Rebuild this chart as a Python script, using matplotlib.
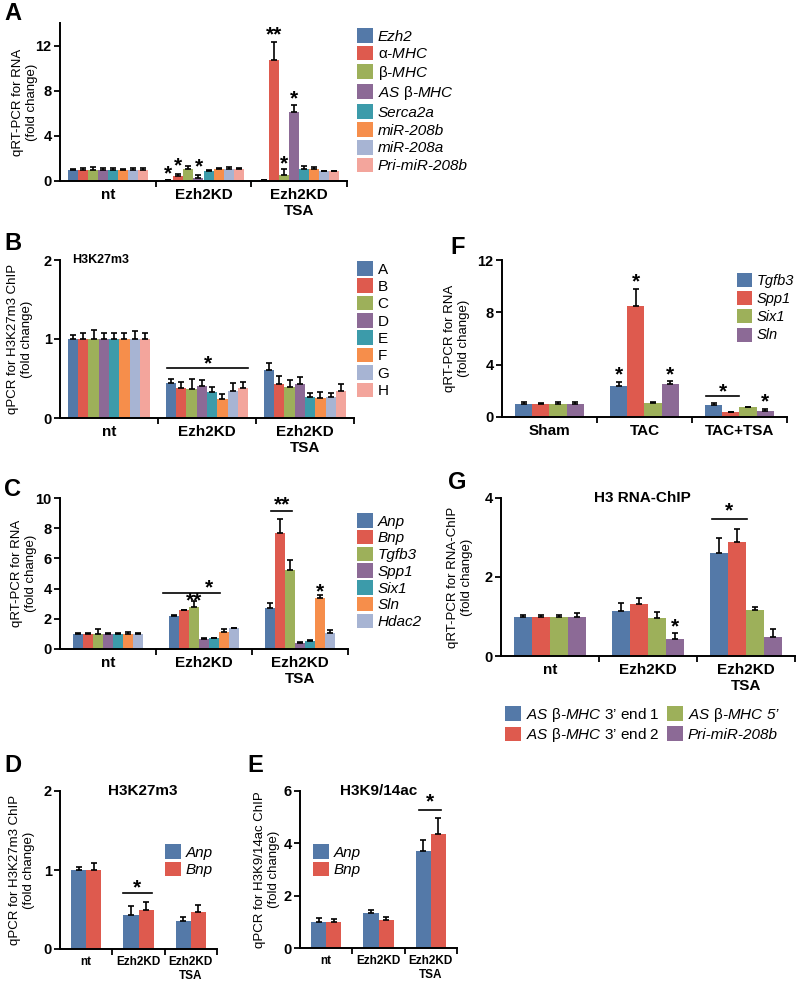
import numpy as np
import matplotlib
matplotlib.use('Agg')
import matplotlib.pyplot as plt
from matplotlib.patches import Patch

plt.rcParams['font.family'] = ['Liberation Sans', 'DejaVu Sans']
plt.rcParams['mathtext.fontset'] = 'custom'
plt.rcParams['mathtext.rm'] = 'Liberation Sans'
plt.rcParams['mathtext.it'] = 'Liberation Sans:italic'

W, H = 800, 983

# colours
BLUE, RED, GREEN, PURPLE = '#5479A8', '#DE5A4E', '#9DB05A', '#8C6A96'
TEAL, ORANGE, LBLUE, PINK = '#3C9BAA', '#F68E4B', '#A7B4D3', '#F3A59C'

## data: one row per series, one value per group
kd_groups = ['nt', 'Ezh2KD', 'Ezh2KD\nTSA']
tac_groups = ['Sham', 'TAC', 'TAC+TSA']

a_labels = ['Ezh2', r'$\mathrm{\alpha}$-MHC', r'$\mathrm{\beta}$-MHC', r'AS $\mathrm{\beta}$-MHC',
            'Serca2a', 'miR-208b', 'miR-208a', 'Pri-miR-208b']
a_vals = [[1.0, 0.06, 0.08], [1.0, 0.45, 10.7], [1.0, 1.1, 0.55], [1.0, 0.3, 6.1],
          [1.0, 0.85, 1.05], [1.0, 1.05, 1.1], [1.0, 1.1, 0.85], [1.0, 1.05, 0.85]]
a_errs = [[0.05, 0.02, 0.03], [0.15, 0.15, 1.65], [0.2, 0.2, 0.5], [0.15, 0.2, 0.6],
          [0.15, 0.1, 0.3], [0.08, 0.08, 0.1], [0.15, 0.1, 0.05], [0.15, 0.12, 0.05]]

b_labels = ['A', 'B', 'C', 'D', 'E', 'F', 'G', 'H']
b_vals = [[1.0, 0.44, 0.61], [1.0, 0.38, 0.43], [1.0, 0.37, 0.39], [1.0, 0.41, 0.43],
          [1.0, 0.33, 0.27], [1.0, 0.24, 0.25], [1.0, 0.34, 0.27], [1.0, 0.38, 0.34]]
b_errs = [[0.05, 0.05, 0.08], [0.07, 0.07, 0.1], [0.12, 0.12, 0.09], [0.07, 0.07, 0.09],
          [0.07, 0.06, 0.05], [0.07, 0.07, 0.08], [0.1, 0.1, 0.05], [0.07, 0.07, 0.09]]

c_labels = ['Anp', 'Bnp', 'Tgfb3', 'Spp1', 'Six1', 'Sln', 'Hdac2']
c_vals = [[1.0, 2.2, 2.7], [1.0, 2.55, 7.7], [1.0, 2.8, 5.2], [1.0, 0.65, 0.42],
          [1.0, 0.7, 0.5], [1.0, 1.15, 3.35], [1.0, 1.37, 1.05]]
c_errs = [[0.03, 0.05, 0.35], [0.03, 0.05, 0.9], [0.35, 0.35, 0.7], [0.05, 0.05, 0.06],
          [0.05, 0.05, 0.1], [0.15, 0.15, 0.25], [0.03, 0.04, 0.2]]

d_labels = ['Anp', 'Bnp']
d_vals = [[1.0, 0.43, 0.36], [1.0, 0.5, 0.47]]
d_errs = [[0.04, 0.12, 0.04], [0.09, 0.1, 0.09]]

e_vals = [[1.0, 1.32, 3.72], [1.0, 1.08, 4.37]]
e_errs = [[0.15, 0.15, 0.42], [0.1, 0.1, 0.6]]

f_labels = ['Tgfb3', 'Spp1', 'Six1', 'Sln']
f_vals = [[1.0, 2.4, 0.95], [1.0, 8.5, 0.35], [1.0, 1.05, 0.75], [1.0, 2.55, 0.45]]
f_errs = [[0.12, 0.3, 0.1], [0.05, 1.25, 0.05], [0.12, 0.12, 0.05], [0.18, 0.2, 0.15]]

g_labels = [r"AS $\mathrm{\beta}$-MHC $\mathrm{3’\ end\ 1}$",
            r"AS $\mathrm{\beta}$-MHC $\mathrm{3’\ end\ 2}$",
            r"AS $\mathrm{\beta}$-MHC 5’", 'Pri-miR-208b']
g_vals = [[1.0, 1.13, 2.62], [1.0, 1.32, 2.88], [1.0, 0.95, 1.17], [1.0, 0.42, 0.48]]
g_errs = [[0.05, 0.2, 0.38], [0.04, 0.15, 0.33], [0.05, 0.17, 0.08], [0.08, 0.17, 0.2]]

colors8 = [BLUE, RED, GREEN, PURPLE, TEAL, ORANGE, LBLUE, PINK]
colors7 = [BLUE, RED, GREEN, PURPLE, TEAL, ORANGE, LBLUE]
colors4 = [BLUE, RED, GREEN, PURPLE]
colors2 = [BLUE, RED]


def px_axes(fig, x0, y0, x1, y1):
    return fig.add_axes([x0 / W, 1 - y1 / H, (x1 - x0) / W, (y1 - y0) / H])


def bar_panel(ax, groups, vals, errs, colors, width, ylim, yticks,
              cat_fs=11, tick_fs=10.5):
    n = len(vals)
    x = np.arange(len(groups))
    pos_all = []
    for i in range(n):
        pos = x + (i - (n - 1) / 2) * width
        pos_all.append(pos)
        ax.bar(pos, vals[i], width, color=colors[i], zorder=2)
        ax.errorbar(pos, vals[i], yerr=[np.zeros(len(x)), errs[i]], fmt='none',
                    ecolor='k', elinewidth=1.2, capsize=2.3, capthick=1.2, zorder=3)
    ax.set_xlim(-0.5, len(groups) - 0.5)
    ax.set_ylim(*ylim)
    ax.set_yticks(yticks)
    ax.set_yticklabels([str(t) for t in yticks], fontweight='bold', fontsize=tick_fs)
    ax.set_xticks(list(x[:-1] + 0.5) + [len(groups) - 0.5])
    ax.set_xticklabels([])
    ax.set_xticks(x, groups, minor=True)
    for t in ax.get_xticklabels(minor=True):
        t.set_fontweight('bold')
        t.set_fontsize(cat_fs)
    ax.tick_params(axis='x', which='minor', length=0, pad=5)
    ax.tick_params(axis='x', which='major', length=4, width=1.3, direction='out')
    ax.tick_params(axis='y', length=4, width=1.3, direction='out', pad=2)
    for s in ['top', 'right']:
        ax.spines[s].set_visible(False)
    for s in ['left', 'bottom']:
        ax.spines[s].set_linewidth(1.4)
    return pos_all


def star(ax, x, y, s='*', fs=15):
    # the glyph sits high in its box, so nudge it down a little
    ax.annotate(s, (x, y), xytext=(0, -1.5), textcoords='offset points',
                ha='center', va='center', fontsize=fs, fontweight='bold')


def sig_line(ax, x1, x2, y):
    ax.plot([x1, x2], [y, y], color='k', lw=1.2, zorder=4)


def legend(ax, labels, colors, x, y, fs=11, italic=True, **kw):
    handles = [Patch(facecolor=c, edgecolor='none') for c in colors]
    prop = {'size': fs, 'style': 'italic' if italic else 'normal'}
    ax.legend(handles, labels, loc='upper left', bbox_to_anchor=(x / W, 1 - y / H),
              bbox_transform=ax.figure.transFigure, frameon=False, prop=prop,
              borderpad=0, borderaxespad=0, handlelength=1.05, handleheight=1.1,
              handletextpad=0.3, **kw)


def ylab(ax, text, offset_px, width_px):
    ax.set_ylabel(text, fontsize=9.5, linespacing=1.2)
    ax.yaxis.set_label_coords(-offset_px / width_px, 0.5)


def letter(fig, s, x, y):
    fig.text(x / W, 1 - y / H, s, fontsize=17, fontweight='bold', ha='left', va='center')


fig = plt.figure(figsize=(W / 100, H / 100), dpi=100)

# A
ax = px_axes(fig, 60, 23, 347, 181)
p = bar_panel(ax, kd_groups, a_vals, a_errs, colors8, 0.105, (0, 14), [0, 4, 8, 12])
ylab(ax, 'qRT-PCR for RNA\n(fold change)', 22, 287)
star(ax, p[0][1], 0.85); star(ax, p[1][1], 1.5); star(ax, p[3][1], 1.4)
star(ax, p[1][2], 13.15, '**'); star(ax, p[2][2], 1.7); star(ax, p[3][2], 7.5)
legend(ax, a_labels, colors8, 357, 28, labelspacing=0.15)
letter(fig, 'A', 4, 14)

# B
ax = px_axes(fig, 60, 260, 354, 418)
p = bar_panel(ax, kd_groups, b_vals, b_errs, colors8, 0.105, (0, 2), [0, 1, 2])
ylab(ax, 'qPCR for H3K27m3 ChIP\n(fold change)', 27, 294)
ax.text(0.04, 1.0, 'H3K27m3', transform=ax.transAxes, fontsize=9, fontweight='bold',
        ha='left', va='center')
sig_line(ax, 0.59, 1.42, 0.63)
star(ax, 1.01, 0.71)
legend(ax, b_labels, colors8, 357, 261, italic=False, labelspacing=0.12)
letter(fig, 'B', 4, 243)

# C
ax = px_axes(fig, 60, 498, 348, 649)
p = bar_panel(ax, kd_groups, c_vals, c_errs, colors7, 0.104, (0, 10), [0, 2, 4, 6, 8, 10])
ylab(ax, 'qRT-PCR for RNA\n(fold change)', 23, 288)
sig_line(ax, 0.57, 1.17, 3.7)
star(ax, 1.05, 4.2); star(ax, p[2][1], 3.3, '**')
sig_line(ax, 1.70, 1.92, 9.15)
star(ax, 1.81, 9.7, '**'); star(ax, p[5][2], 3.9)
legend(ax, c_labels, colors7, 357, 513, labelspacing=0.08)
letter(fig, 'C', 4, 490)

# D
ax = px_axes(fig, 60, 791, 217, 949)
p = bar_panel(ax, kd_groups, d_vals, d_errs, colors2, 0.29, (0, 2), [0, 1, 2],
              cat_fs=8.5, tick_fs=10.5)
ylab(ax, 'qPCR for H3K27m3 ChIP\n(fold change)', 25, 157)
ax.text(0.53, 1.0, 'H3K27m3', transform=ax.transAxes, fontsize=11, fontweight='bold',
        ha='center', va='center')
sig_line(ax, 0.70, 1.26, 0.71)
star(ax, 0.97, 0.8)
legend(ax, d_labels, colors2, 165, 844, labelspacing=0.15)
letter(fig, 'D', 4, 765)

# E
ax = px_axes(fig, 300, 791, 457, 948)
p = bar_panel(ax, kd_groups, e_vals, e_errs, colors2, 0.29, (0, 6), [0, 2, 4, 6],
              cat_fs=8.5, tick_fs=10.5)
ylab(ax, 'qPCR for H3K9/14ac ChIP\n(fold change)', 20, 157)
ax.text(0.5, 1.0, 'H3K9/14ac', transform=ax.transAxes, fontsize=11, fontweight='bold',
        ha='center', va='center')
sig_line(ax, 1.78, 2.2, 5.27)
star(ax, 1.99, 5.65)
legend(ax, d_labels, colors2, 313, 844, labelspacing=0.15)
letter(fig, 'E', 247, 765)

# F
ax = px_axes(fig, 502, 260, 787, 417)
p = bar_panel(ax, tac_groups, f_vals, f_errs, colors4, 0.18, (0, 12), [0, 4, 8, 12])
ylab(ax, 'qRT-PCR for RNA\n(fold change)', 32, 285)
star(ax, p[0][1], 3.35); star(ax, p[1][1], 10.5); star(ax, p[3][1], 3.4)
sig_line(ax, 1.65, 2.0, 1.63)
star(ax, 1.83, 2.05); star(ax, p[3][2], 1.3)
legend(ax, f_labels, colors4, 737, 273, fs=10.5, labelspacing=0.22)
letter(fig, 'F', 450, 247)

# G
ax = px_axes(fig, 501, 498, 795, 656)
p = bar_panel(ax, kd_groups, g_vals, g_errs, colors4, 0.184, (0, 4), [0, 2, 4])
ylab(ax, 'qRT-PCR for RNA-ChIP\n(fold change)', 28, 294)
ax.text(0.48, 1.0, 'H3 RNA-ChIP', transform=ax.transAxes, fontsize=11, fontweight='bold',
        ha='center', va='center')
star(ax, p[3][1], 0.8)
sig_line(ax, 1.65, 2.01, 3.48)
star(ax, 1.83, 3.72)
legend(ax, g_labels, colors4, 505, 706, ncol=2, labelspacing=0.15, columnspacing=0.5)
letter(fig, 'G', 448, 483)

fig.savefig('out.png', dpi=100)
